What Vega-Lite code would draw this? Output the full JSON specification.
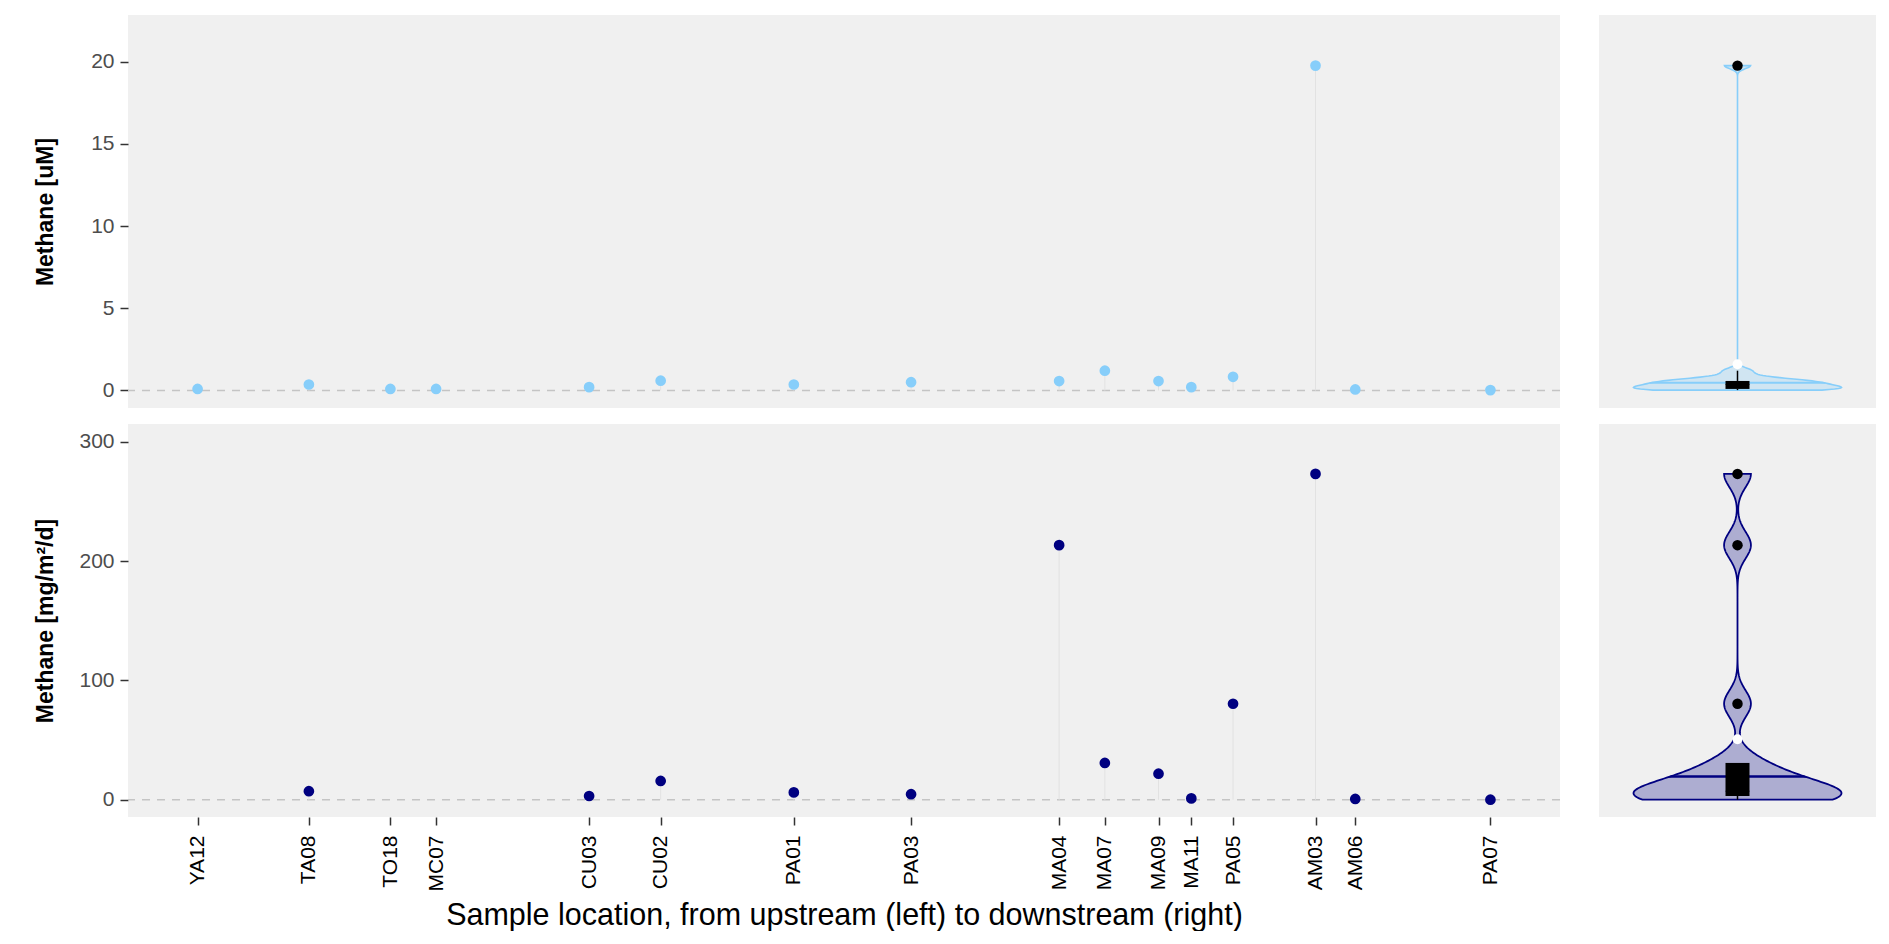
{
  "$schema": "https://vega.github.io/schema/vega-lite/v6.json",
  "background": "white",
  "padding": {"left": 34, "top": 15, "right": 14, "bottom": 0},
  "config": {
    "font": "Liberation Sans",
    "view": {"fill": "#f0f0f0", "stroke": null},
    "axis": {"labelFont": "Liberation Sans", "titleFont": "Liberation Sans", "labelFontSize": 21, "labelColor": "#4d4d4d", "tickColor": "#333333", "tickSize": 8, "tickWidth": 1.5, "domain": false, "grid": false},
    "axisY": {"titleFontSize": 23, "titleFontWeight": "bold", "titleColor": "black", "labelPadding": 6, "minExtent": 55, "maxExtent": 55, "titlePadding": 16},
    "axisX": {"labelColor": "black", "labelPadding": 10, "titleFontSize": 30.5, "titleFontWeight": "normal", "titleColor": "black", "titlePadding": 9}
  },
  "datasets": {
    "sites": [
      {"site": "YA12", "pos": 0, "variable": "uM", "value": 0.09},
      {"site": "TA08", "pos": 112, "variable": "uM", "value": 0.36},
      {"site": "TO18", "pos": 194, "variable": "uM", "value": 0.09},
      {"site": "MC07", "pos": 240, "variable": "uM", "value": 0.09},
      {"site": "CU03", "pos": 394, "variable": "uM", "value": 0.2},
      {"site": "CU02", "pos": 466, "variable": "uM", "value": 0.59},
      {"site": "PA01", "pos": 600, "variable": "uM", "value": 0.36},
      {"site": "PA03", "pos": 718, "variable": "uM", "value": 0.5},
      {"site": "MA04", "pos": 867, "variable": "uM", "value": 0.57},
      {"site": "MA07", "pos": 913, "variable": "uM", "value": 1.2},
      {"site": "MA09", "pos": 967, "variable": "uM", "value": 0.57},
      {"site": "MA11", "pos": 1000, "variable": "uM", "value": 0.2},
      {"site": "PA05", "pos": 1042, "variable": "uM", "value": 0.83},
      {"site": "AM03", "pos": 1125, "variable": "uM", "value": 19.76},
      {"site": "AM06", "pos": 1165, "variable": "uM", "value": 0.06},
      {"site": "PA07", "pos": 1301, "variable": "uM", "value": 0.02},
      {"site": "TA08", "pos": 112, "variable": "flux", "value": 7.1},
      {"site": "CU03", "pos": 394, "variable": "flux", "value": 3.1},
      {"site": "CU02", "pos": 466, "variable": "flux", "value": 15.7},
      {"site": "PA01", "pos": 600, "variable": "flux", "value": 6.1},
      {"site": "PA03", "pos": 718, "variable": "flux", "value": 4.6},
      {"site": "MA04", "pos": 867, "variable": "flux", "value": 213.3},
      {"site": "MA07", "pos": 913, "variable": "flux", "value": 30.8},
      {"site": "MA09", "pos": 967, "variable": "flux", "value": 21.8},
      {"site": "MA11", "pos": 1000, "variable": "flux", "value": 1.1},
      {"site": "PA05", "pos": 1042, "variable": "flux", "value": 80.4},
      {"site": "AM03", "pos": 1125, "variable": "flux", "value": 273},
      {"site": "AM06", "pos": 1165, "variable": "flux", "value": 0.6},
      {"site": "PA07", "pos": 1301, "variable": "flux", "value": 0}
    ]
  },
  "columns": 2,
  "spacing": {"row": 16, "column": 38},
  "concat": [
    {
      "width": 1432, "height": 393,
      "data": {"name": "sites"},
      "transform": [{"filter": "datum.variable === 'uM'"}],
      "layer": [
        {
          "data": {"values": [{}]},
          "mark": {"type": "rule", "color": "#c4c4c4", "strokeDash": [8, 7], "strokeWidth": 1.5},
          "encoding": {"y": {"datum": 0, "type": "quantitative", "scale": {"domain": [-1.07, 22.84], "nice": false, "zero": false}, "axis": {"values": [0, 5, 10, 15, 20], "title": "Methane [uM]"}}}
        },
        {
          "mark": {"type": "bar", "orient": "vertical", "color": "#e2e2e2", "width": 1},
          "encoding": {
            "x": {"field": "pos", "type": "quantitative", "scale": {"domain": [-65, 1366], "nice": false, "zero": false}, "axis": null},
            "y": {"field": "value", "type": "quantitative", "scale": {"domain": [-1.07, 22.84], "nice": false, "zero": false}, "axis": {"values": [0, 5, 10, 15, 20], "title": "Methane [uM]"}}
          }
        },
        {
          "mark": {"type": "circle", "size": 115, "color": "#87CEFA", "opacity": 1},
          "encoding": {
            "x": {"field": "pos", "type": "quantitative", "scale": {"domain": [-65, 1366], "nice": false, "zero": false}, "axis": null},
            "y": {"field": "value", "type": "quantitative", "scale": {"domain": [-1.07, 22.84], "nice": false, "zero": false}, "axis": {"values": [0, 5, 10, 15, 20], "title": "Methane [uM]"}}
          }
        }
      ]
    },
    {
      "width": 277, "height": 393,
      "data": {"name": "sites"},
      "transform": [{"filter": "datum.variable === 'uM'"}],
      "resolve": {"scale": {"x": "independent"}},
      "layer": [
        {
          "layer": [
            {
              "transform": [{"density": "value", "bandwidth": 0.187, "steps": 600, "as": ["value", "density"]}],
              "mark": {"type": "area", "orient": "horizontal", "fill": "#87CEFA", "fillOpacity": 0.3, "stroke": "#87CEFA", "strokeWidth": 1.6},
              "encoding": {
                "y": {"field": "value", "type": "quantitative", "scale": {"domain": [-1.07, 22.84], "nice": false, "zero": false}, "axis": null},
                "x": {"field": "density", "type": "quantitative", "stack": "center", "impute": null, "scale": {"padding": 34.5, "nice": false, "zero": false}, "axis": null}
              }
            },
            {
              "transform": [
                {"density": "value", "bandwidth": 0.187, "steps": 600, "as": ["value", "density"]},
                {"stack": "density", "groupby": ["value"], "offset": "center", "as": ["x0", "x1"]},
                {"filter": {"field": "value", "range": [0.42, 0.49]}}
              ],
              "mark": {"type": "area", "orient": "horizontal", "fill": "#87CEFA", "stroke": "#87CEFA", "strokeWidth": 1.4},
              "encoding": {
                "y": {"field": "value", "type": "quantitative", "scale": {"domain": [-1.07, 22.84], "nice": false, "zero": false}, "axis": null},
                "x": {"field": "x0", "type": "quantitative", "axis": null},
                "x2": {"field": "x1"}
              }
            }
          ]
        },
        {
          "layer": [
            {
              "mark": {"type": "boxplot", "extent": 1.5, "size": 24, "box": {"color": "black"}, "median": {"color": "black"}, "rule": {"color": "black", "strokeWidth": 1.5}, "ticks": false, "outliers": {"filled": true, "size": 110, "color": "black", "opacity": 1}},
              "encoding": {
                "x": {"field": "variable", "type": "nominal", "axis": null},
                "y": {"field": "value", "type": "quantitative", "scale": {"domain": [-1.07, 22.84], "nice": false, "zero": false}, "axis": null}
              }
            },
            {
              "mark": {"type": "point", "filled": true, "color": "white", "size": 100, "opacity": 1},
              "encoding": {
                "x": {"field": "variable", "type": "nominal", "axis": null},
                "y": {"aggregate": "mean", "field": "value", "type": "quantitative", "scale": {"domain": [-1.07, 22.84], "nice": false, "zero": false}, "axis": null}
              }
            }
          ]
        }
      ]
    },
    {
      "width": 1432, "height": 393,
      "data": {"name": "sites"},
      "transform": [{"filter": "datum.variable === 'flux'"}],
      "layer": [
        {
          "data": {"values": [{}]},
          "mark": {"type": "rule", "color": "#c4c4c4", "strokeDash": [8, 7], "strokeWidth": 1.5},
          "encoding": {"y": {"datum": 0, "type": "quantitative", "scale": {"domain": [-14.5, 314.8], "nice": false, "zero": false}, "axis": {"values": [0, 100, 200, 300], "title": "Methane [mg/m²/d]"}}}
        },
        {
          "mark": {"type": "bar", "orient": "vertical", "color": "#e2e2e2", "width": 1},
          "encoding": {
            "x": {"field": "pos", "type": "quantitative", "scale": {"domain": [-65, 1366], "nice": false, "zero": false}},
            "y": {"field": "value", "type": "quantitative", "scale": {"domain": [-14.5, 314.8], "nice": false, "zero": false}, "axis": {"values": [0, 100, 200, 300], "title": "Methane [mg/m²/d]"}}
          }
        },
        {
          "mark": {"type": "circle", "size": 115, "color": "#000080", "opacity": 1},
          "encoding": {
            "x": {"field": "pos", "type": "quantitative", "scale": {"domain": [-65, 1366], "nice": false, "zero": false},
              "axis": {
                "title": "Sample location, from upstream (left) to downstream (right)",
                "values": [0, 112, 194, 240, 394, 466, 600, 718, 867, 913, 967, 1000, 1042, 1125, 1165, 1301],
                "labelAngle": 270, "labelOverlap": false, "labelFlush": false,
                "labelExpr": "datum.value == 0 ? 'YA12' : datum.value == 112 ? 'TA08' : datum.value == 194 ? 'TO18' : datum.value == 240 ? 'MC07' : datum.value == 394 ? 'CU03' : datum.value == 466 ? 'CU02' : datum.value == 600 ? 'PA01' : datum.value == 718 ? 'PA03' : datum.value == 867 ? 'MA04' : datum.value == 913 ? 'MA07' : datum.value == 967 ? 'MA09' : datum.value == 1000 ? 'MA11' : datum.value == 1042 ? 'PA05' : datum.value == 1125 ? 'AM03' : datum.value == 1165 ? 'AM06' : datum.value == 1301 ? 'PA07' : ''"
              }
            },
            "y": {"field": "value", "type": "quantitative", "scale": {"domain": [-14.5, 314.8], "nice": false, "zero": false}, "axis": {"values": [0, 100, 200, 300], "title": "Methane [mg/m²/d]"}}
          }
        }
      ]
    },
    {
      "width": 277, "height": 393,
      "data": {"name": "sites"},
      "transform": [{"filter": "datum.variable === 'flux'"}],
      "resolve": {"scale": {"x": "independent"}},
      "layer": [
        {
          "layer": [
            {
              "transform": [{"density": "value", "bandwidth": 11.14, "steps": 400, "as": ["value", "density"]}],
              "mark": {"type": "area", "orient": "horizontal", "fill": "#000080", "fillOpacity": 0.28, "stroke": "#000080", "strokeWidth": 1.8},
              "encoding": {
                "y": {"field": "value", "type": "quantitative", "scale": {"domain": [-14.5, 314.8], "nice": false, "zero": false}, "axis": null},
                "x": {"field": "density", "type": "quantitative", "stack": "center", "impute": null, "scale": {"padding": 34.5, "nice": false, "zero": false}, "axis": null}
              }
            },
            {
              "transform": [
                {"density": "value", "bandwidth": 11.14, "steps": 400, "as": ["value", "density"]},
                {"stack": "density", "groupby": ["value"], "offset": "center", "as": ["x0", "x1"]},
                {"filter": {"field": "value", "range": [19.0, 20.4]}}
              ],
              "mark": {"type": "area", "orient": "horizontal", "fill": "#000080", "stroke": "#000080", "strokeWidth": 1.6},
              "encoding": {
                "y": {"field": "value", "type": "quantitative", "scale": {"domain": [-14.5, 314.8], "nice": false, "zero": false}, "axis": null},
                "x": {"field": "x0", "type": "quantitative", "axis": null},
                "x2": {"field": "x1"}
              }
            }
          ]
        },
        {
          "layer": [
            {
              "mark": {"type": "boxplot", "extent": 1.5, "size": 24, "box": {"color": "black"}, "median": {"color": "black"}, "rule": {"color": "black", "strokeWidth": 1.5}, "ticks": false, "outliers": {"filled": true, "size": 110, "color": "black", "opacity": 1}},
              "encoding": {
                "x": {"field": "variable", "type": "nominal", "axis": null},
                "y": {"field": "value", "type": "quantitative", "scale": {"domain": [-14.5, 314.8], "nice": false, "zero": false}, "axis": null}
              }
            },
            {
              "mark": {"type": "point", "filled": true, "color": "white", "size": 100, "opacity": 1},
              "encoding": {
                "x": {"field": "variable", "type": "nominal", "axis": null},
                "y": {"aggregate": "mean", "field": "value", "type": "quantitative", "scale": {"domain": [-14.5, 314.8], "nice": false, "zero": false}, "axis": null}
              }
            }
          ]
        }
      ]
    }
  ]
}
